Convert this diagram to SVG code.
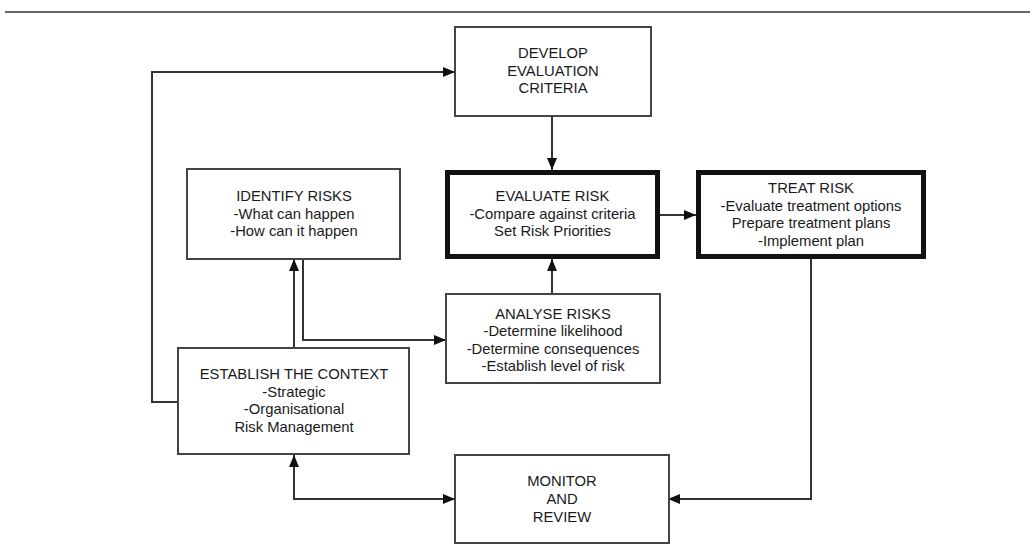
<svg xmlns="http://www.w3.org/2000/svg" width="1030" height="554" viewBox="0 0 1030 554">
<style>
.box{fill:#fff;stroke:#444;stroke-width:2}
.thick{fill:#fff;stroke:#111;stroke-width:5}
.conn{fill:none;stroke:#333;stroke-width:2}
text{font-family:"Liberation Sans",Arial,sans-serif;font-size:14.8px;fill:#1a1a1a;text-anchor:middle}
</style>
<defs>
<marker id="arr" markerUnits="userSpaceOnUse" markerWidth="12" markerHeight="10" refX="12" refY="5" orient="auto-start-reverse" viewBox="0 0 12 10">
<path d="M0,0 L12,5 L0,10 z" fill="#111"/>
</marker>
</defs>
<rect width="1030" height="554" fill="#fff"/>
<line x1="5" y1="12" x2="1030" y2="12" stroke="#666" stroke-width="2"/>
<g id="connectors">
<polyline class="conn" points="178,402 152,402 152,72 455,72" marker-end="url(#arr)"/>
<line class="conn" x1="552" y1="116" x2="552" y2="170" marker-end="url(#arr)"/>
<line class="conn" x1="660" y1="215" x2="696" y2="215" marker-end="url(#arr)"/>
<line class="conn" x1="552" y1="294" x2="552" y2="259" marker-end="url(#arr)"/>
<line class="conn" x1="294" y1="348" x2="294" y2="259" marker-end="url(#arr)"/>
<polyline class="conn" points="303,259 303,340 446,340" marker-end="url(#arr)"/>
<polyline class="conn" points="811,259 811,499 668,499" marker-end="url(#arr)"/>
<polyline class="conn" points="294,455 294,499 455,499" marker-start="url(#arr)" marker-end="url(#arr)"/>
</g>
<g id="develop">
<rect class="box" x="455" y="27" width="196" height="89"/>
<text x="553" y="58">DEVELOP</text>
<text x="553" y="75.5">EVALUATION</text>
<text x="553" y="93">CRITERIA</text>
</g>
<g id="identify">
<rect class="box" x="187" y="169" width="213" height="90"/>
<text x="294" y="201">IDENTIFY RISKS</text>
<text x="294" y="218.5">-What can happen</text>
<text x="294" y="236">-How can it happen</text>
</g>
<g id="evaluate">
<rect class="thick" x="447.5" y="172.5" width="210" height="84"/>
<text x="552.5" y="201">EVALUATE RISK</text>
<text x="552.5" y="218.5">-Compare against criteria</text>
<text x="552.5" y="236">Set Risk Priorities</text>
</g>
<g id="treat">
<rect class="thick" x="698.5" y="172.5" width="225" height="84"/>
<text x="811" y="193">TREAT RISK</text>
<text x="811" y="210.5">-Evaluate treatment options</text>
<text x="811" y="228">Prepare treatment plans</text>
<text x="811" y="245.5">-Implement plan</text>
</g>
<g id="analyse">
<rect class="box" x="446" y="294" width="214" height="89"/>
<text x="553" y="318.5">ANALYSE RISKS</text>
<text x="553" y="336">-Determine likelihood</text>
<text x="553" y="353.5">-Determine consequences</text>
<text x="553" y="370.5">-Establish level of risk</text>
</g>
<g id="establish">
<rect class="box" x="178" y="348" width="231" height="106"/>
<text x="294" y="379">ESTABLISH THE CONTEXT</text>
<text x="294" y="396.5">-Strategic</text>
<text x="294" y="414">-Organisational</text>
<text x="294" y="431.5">Risk Management</text>
</g>
<g id="monitor">
<rect class="box" x="455" y="455" width="214" height="88"/>
<text x="562" y="486">MONITOR</text>
<text x="562" y="504">AND</text>
<text x="562" y="521.5">REVIEW</text>
</g>
</svg>
